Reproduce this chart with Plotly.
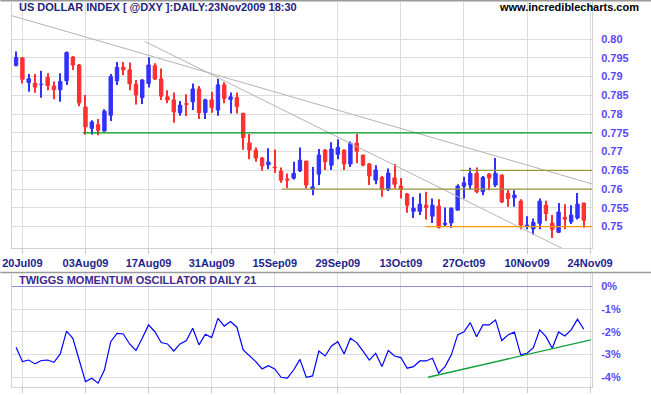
import pandas as pd
import plotly.graph_objects as go

# ---------------- data ----------------
dates = [d.strftime("%Y-%m-%d") for d in pd.bdate_range("2009-07-17", "2009-11-23") if d.strftime("%Y-%m-%d") != "2009-09-07"]
axis_dates = dates + ["2009-11-24"]

opens = [0.7930, 0.7950, 0.7884, 0.7882, 0.7879, 0.7898, 0.7875, 0.7865, 0.7889, 0.7952,
         0.7931, 0.7819, 0.7762, 0.7772, 0.7755, 0.7797, 0.7889, 0.7925, 0.7918, 0.7880,
         0.7844, 0.7882, 0.7929, 0.7894, 0.7846, 0.7838, 0.7804, 0.7828, 0.7833, 0.7867,
         0.7804, 0.7838, 0.7811, 0.7878, 0.7839, 0.7844, 0.7802, 0.7723, 0.7704, 0.7683,
         0.7665, 0.7659, 0.7648, 0.7627, 0.7629, 0.7649, 0.7675, 0.7600, 0.7640, 0.7704,
         0.7664, 0.7693, 0.7704, 0.7667, 0.7723, 0.7691, 0.7667, 0.7624, 0.7631, 0.7599,
         0.7630, 0.7608, 0.7587, 0.7541, 0.7541, 0.7557, 0.7528, 0.7555, 0.7506, 0.7510,
         0.7544, 0.7608, 0.7611, 0.7642, 0.7593, 0.7640, 0.7611, 0.7637, 0.7589, 0.7577,
         0.7568, 0.7501, 0.7494, 0.7509, 0.7557, 0.7509, 0.7485, 0.7525, 0.7513, 0.7523,
         0.7563]
highs = [0.7967, 0.7952, 0.7907, 0.7907, 0.7916, 0.7909, 0.7887, 0.7909, 0.7967, 0.7955,
         0.7934, 0.7851, 0.7784, 0.7787, 0.7813, 0.7907, 0.7939, 0.7939, 0.7938, 0.7891,
         0.7893, 0.7952, 0.7936, 0.7922, 0.7864, 0.7858, 0.7835, 0.7853, 0.7882, 0.7875,
         0.7841, 0.7860, 0.7894, 0.7885, 0.7858, 0.7858, 0.7804, 0.7747, 0.7711, 0.7686,
         0.7709, 0.7706, 0.7658, 0.7642, 0.7673, 0.7711, 0.7675, 0.7659, 0.7707, 0.7707,
         0.7725, 0.7733, 0.7706, 0.7727, 0.7747, 0.7691, 0.7670, 0.7664, 0.7635, 0.7655,
         0.7667, 0.7630, 0.7590, 0.7579, 0.7589, 0.7593, 0.7575, 0.7573, 0.7551, 0.7551,
         0.7613, 0.7633, 0.7657, 0.7658, 0.7635, 0.7643, 0.7683, 0.7640, 0.7599, 0.7597,
         0.7573, 0.7528, 0.7522, 0.7575, 0.7569, 0.7531, 0.7563, 0.7560, 0.7557, 0.7590,
         0.7563]
lows = [0.7927, 0.7882, 0.7860, 0.7857, 0.7844, 0.7864, 0.7840, 0.7833, 0.7878, 0.7918,
        0.7821, 0.7746, 0.7746, 0.7744, 0.7753, 0.7782, 0.7878, 0.7904, 0.7864, 0.7826,
        0.7827, 0.7871, 0.7891, 0.7838, 0.7829, 0.7777, 0.7796, 0.7795, 0.7811, 0.7787,
        0.7787, 0.7804, 0.7796, 0.7829, 0.7802, 0.7802, 0.7705, 0.7680, 0.7673, 0.7649,
        0.7653, 0.7643, 0.7617, 0.7603, 0.7626, 0.7646, 0.7602, 0.7584, 0.7611, 0.7651,
        0.7651, 0.7680, 0.7651, 0.7659, 0.7669, 0.7661, 0.7611, 0.7613, 0.7580, 0.7595,
        0.7602, 0.7575, 0.7537, 0.7523, 0.7531, 0.7519, 0.7510, 0.7495, 0.7501, 0.7497,
        0.7544, 0.7575, 0.7599, 0.7589, 0.7584, 0.7597, 0.7606, 0.7563, 0.7553, 0.7553,
        0.7493, 0.7493, 0.7479, 0.7493, 0.7515, 0.7470, 0.7483, 0.7493, 0.7507, 0.7519,
        0.7497]
closes = [0.7951, 0.7893, 0.7894, 0.7872, 0.7880, 0.7876, 0.7865, 0.7887, 0.7964, 0.7931,
          0.7830, 0.7766, 0.7779, 0.7757, 0.7808, 0.7900, 0.7925, 0.7918, 0.7881, 0.7851,
          0.7891, 0.7931, 0.7894, 0.7848, 0.7838, 0.7806, 0.7824, 0.7826, 0.7867, 0.7804,
          0.7838, 0.7818, 0.7878, 0.7842, 0.7846, 0.7820, 0.7737, 0.7704, 0.7683, 0.7662,
          0.7672, 0.7657, 0.7624, 0.7624, 0.7642, 0.7677, 0.7611, 0.7606, 0.7691, 0.7673,
          0.7707, 0.7711, 0.7667, 0.7722, 0.7701, 0.7664, 0.7635, 0.7651, 0.7599, 0.7643,
          0.7613, 0.7599, 0.7557, 0.7549, 0.7560, 0.7551, 0.7557, 0.7498, 0.7509, 0.7549,
          0.7608, 0.7617, 0.7642, 0.7593, 0.7631, 0.7630, 0.7642, 0.7566, 0.7575, 0.7584,
          0.7504, 0.7504, 0.7511, 0.7568, 0.7535, 0.7493, 0.7539, 0.7520, 0.7531, 0.7560,
          0.7517]
momentum = [-2.68, -3.31, -3.24, -3.41, -3.26, -3.24, -3.34, -2.97, -1.96, -2.28,
            -3.24, -4.19, -4.04, -4.26, -3.68, -2.43, -2.06, -2.09, -2.53, -2.82,
            -2.28, -1.69, -1.99, -2.47, -2.53, -2.84, -2.53, -2.38, -1.84, -2.57,
            -2.10, -2.25, -1.40, -1.74, -1.54, -1.79, -2.79, -3.06, -3.31, -3.63,
            -3.49, -3.63, -4.00, -4.04, -3.68, -3.21, -4.00, -3.94, -2.84, -3.06,
            -2.62, -2.43, -2.97, -2.28, -2.47, -2.85, -3.24, -2.94, -3.53, -2.82,
            -3.06, -3.13, -3.60, -3.53, -3.28, -3.28, -3.16, -3.82, -3.53, -3.01,
            -2.13, -1.99, -1.59, -2.21, -1.69, -1.69, -1.47, -2.38, -2.13, -2.01,
            -3.01, -2.94, -2.69, -1.91, -2.21, -2.72, -2.00, -2.18, -1.91, -1.44,
            -1.88]

tick_dates = ["2009-07-20", "2009-08-03", "2009-08-17", "2009-08-31", "2009-09-15",
              "2009-09-29", "2009-10-13", "2009-10-27", "2009-11-10", "2009-11-24"]
tick_labels = ["20Jul09", "03Aug09", "17Aug09", "31Aug09", "15Sep09",
               "29Sep09", "13Oct09", "27Oct09", "10Nov09", "24Nov09"]
price_ticks = [0.75, 0.755, 0.76, 0.765, 0.77, 0.775, 0.78, 0.785, 0.79, 0.795, 0.80]
price_labels = ["0.75", "0.755", "0.76", "0.765", "0.77", "0.775", "0.78", "0.785", "0.79", "0.795", "0.80"]
mom_ticks = [0, -1, -2, -3, -4]
mom_labels = ["0%", "-1%", "-2%", "-3%", "-4%"]

# trend lines: (x0 index, y0, x1 index, y1)
price_lines = [
    (-2.0, 0.8069, 91.3, 0.7614, "#b4b4b4", 1),
    (20.4, 0.7994, 86.7, 0.7441, "#b4b4b4", 1),
    (10.6, 0.775, 91.3, 0.775, "#009a1a", 1.4),
    (42.1, 0.760, 91.3, 0.760, "#9a9a3c", 1.4),
    (70.4, 0.765, 91.3, 0.765, "#9a9a3c", 1.4),
    (64.9, 0.750, 91.3, 0.750, "#ff9900", 1.4),
]
mom_lines = [(65.3, -4.0, 91.1, -2.35, "#14a03c", 1.4)]

UP = "#3030ff"
DOWN = "#ff3030"
FONT = "Liberation Sans, Arial, sans-serif"
XRANGE = [-0.65, 91.3]

colors = [UP if c >= o else DOWN for o, c in zip(opens, closes)]
body_base = [min(o, c) for o, c in zip(opens, closes)]
body_len = [abs(c - o) for o, c in zip(opens, closes)]
wick_len = [h - l for h, l in zip(highs, lows)]

fig = go.Figure()
# wicks
fig.add_trace(go.Bar(x=dates, y=wick_len, base=lows, width=0.16,
                     marker=dict(color=colors, line=dict(width=0)),
                     xaxis="x", yaxis="y", showlegend=False, hoverinfo="skip"))
# bodies
fig.add_trace(go.Bar(x=dates, y=body_len, base=body_base, width=0.54,
                     marker=dict(color=colors, line=dict(color=colors, width=1)),
                     xaxis="x", yaxis="y", showlegend=False, hoverinfo="skip"))
fig.add_trace(go.Scatter(
    x=dates, y=momentum, mode="lines", line=dict(color="#0000ff", width=1.2),
    xaxis="x2", yaxis="y2", showlegend=False, hoverinfo="skip"))

shapes = []
for x0, y0, x1, y1, c, w in price_lines:
    shapes.append(dict(type="line", xref="x", yref="y", x0=x0, y0=y0, x1=x1, y1=y1,
                       line=dict(color=c, width=w)))
for x0, y0, x1, y1, c, w in mom_lines:
    shapes.append(dict(type="line", xref="x2", yref="y2", x0=x0, y0=y0, x1=x1, y1=y1,
                       line=dict(color=c, width=w)))
# panel frame lines
shapes.append(dict(type="line", xref="paper", yref="paper", x0=-0.02, x1=1.12, y0=1.003, y1=1.003,
                   line=dict(color="#9a9a9a", width=1.5)))
shapes.append(dict(type="line", xref="paper", yref="paper", x0=-0.02, x1=1.12, y0=0.2975, y1=0.2975,
                   line=dict(color="#9a9a9a", width=1.5)))

grid = "#dcdcdc"
xcommon = dict(type="category", categoryorder="array", categoryarray=axis_dates,
               range=XRANGE, tickmode="array", tickvals=tick_dates, showgrid=True,
               gridcolor=grid, gridwidth=1, ticks="outside", ticklen=5, tickcolor="#c8c8c8",
               showline=True, linecolor="#d0d0d0", zeroline=False, fixedrange=True)

fig.update_layout(
    width=651, height=395,
    margin=dict(l=10, r=59, t=2, b=8),
    paper_bgcolor="white", plot_bgcolor="white",
    font=dict(family=FONT),
    barmode="overlay",
    xaxis=dict(**xcommon, domain=[0, 1], anchor="y", ticktext=tick_labels,
               tickfont=dict(family=FONT, size=11, color="#1e1e8c", weight="bold")),
    yaxis=dict(domain=[0.361, 1], anchor="x", side="right", range=[0.7443, 0.8099],
               tickmode="array", tickvals=price_ticks, ticktext=price_labels,
               tickfont=dict(family=FONT, size=11, color="#5a46ff", weight="bold"),
               showgrid=True, gridcolor=grid, zeroline=False, ticks="",
               ticklabelstandoff=6, showline=True, mirror=True, linecolor="#d0d0d0"),
    xaxis2=dict(**xcommon, domain=[0, 1], anchor="y2", ticktext=tick_labels,
                showticklabels=False),
    yaxis2=dict(domain=[0, 0.296], anchor="x2", side="right", range=[-4.43, 0.6],
                tickmode="array", tickvals=mom_ticks, ticktext=mom_labels,
                tickfont=dict(family=FONT, size=11, color="#5a46ff", weight="bold"),
                showgrid=True, gridcolor=grid, zeroline=True, zerolinecolor="#8c8cd2",
                zerolinewidth=1.2, ticks="", ticklabelstandoff=6,
                showline=True, mirror=True, linecolor="#d0d0d0"),
    shapes=shapes,
    annotations=[
        dict(text="US DOLLAR INDEX [ @DXY ]:DAILY:23Nov2009 18:30", xref="paper", yref="paper",
             x=0.0086, y=0.986, xanchor="left", yanchor="middle", showarrow=False,
             font=dict(family=FONT, size=11, color="#23237d", weight="bold")),
        dict(text="www.incrediblecharts.com", xref="paper", yref="paper",
             x=1.085, y=0.986, xanchor="right", yanchor="middle", showarrow=False,
             font=dict(family=FONT, size=11, color="#000000", weight="bold")),
        dict(text="TWIGGS MOMENTUM OSCILLATOR DAILY 21", xref="paper", yref="paper",
             x=0.0086, y=0.278, xanchor="left", yanchor="middle", showarrow=False,
             font=dict(family=FONT, size=11, color="#3c2a8c", weight="bold")),
    ],
)

fig.write_html("out.html", config={"displayModeBar": False},
               post_script="document.body.style.margin='0';document.body.style.padding='0';")
